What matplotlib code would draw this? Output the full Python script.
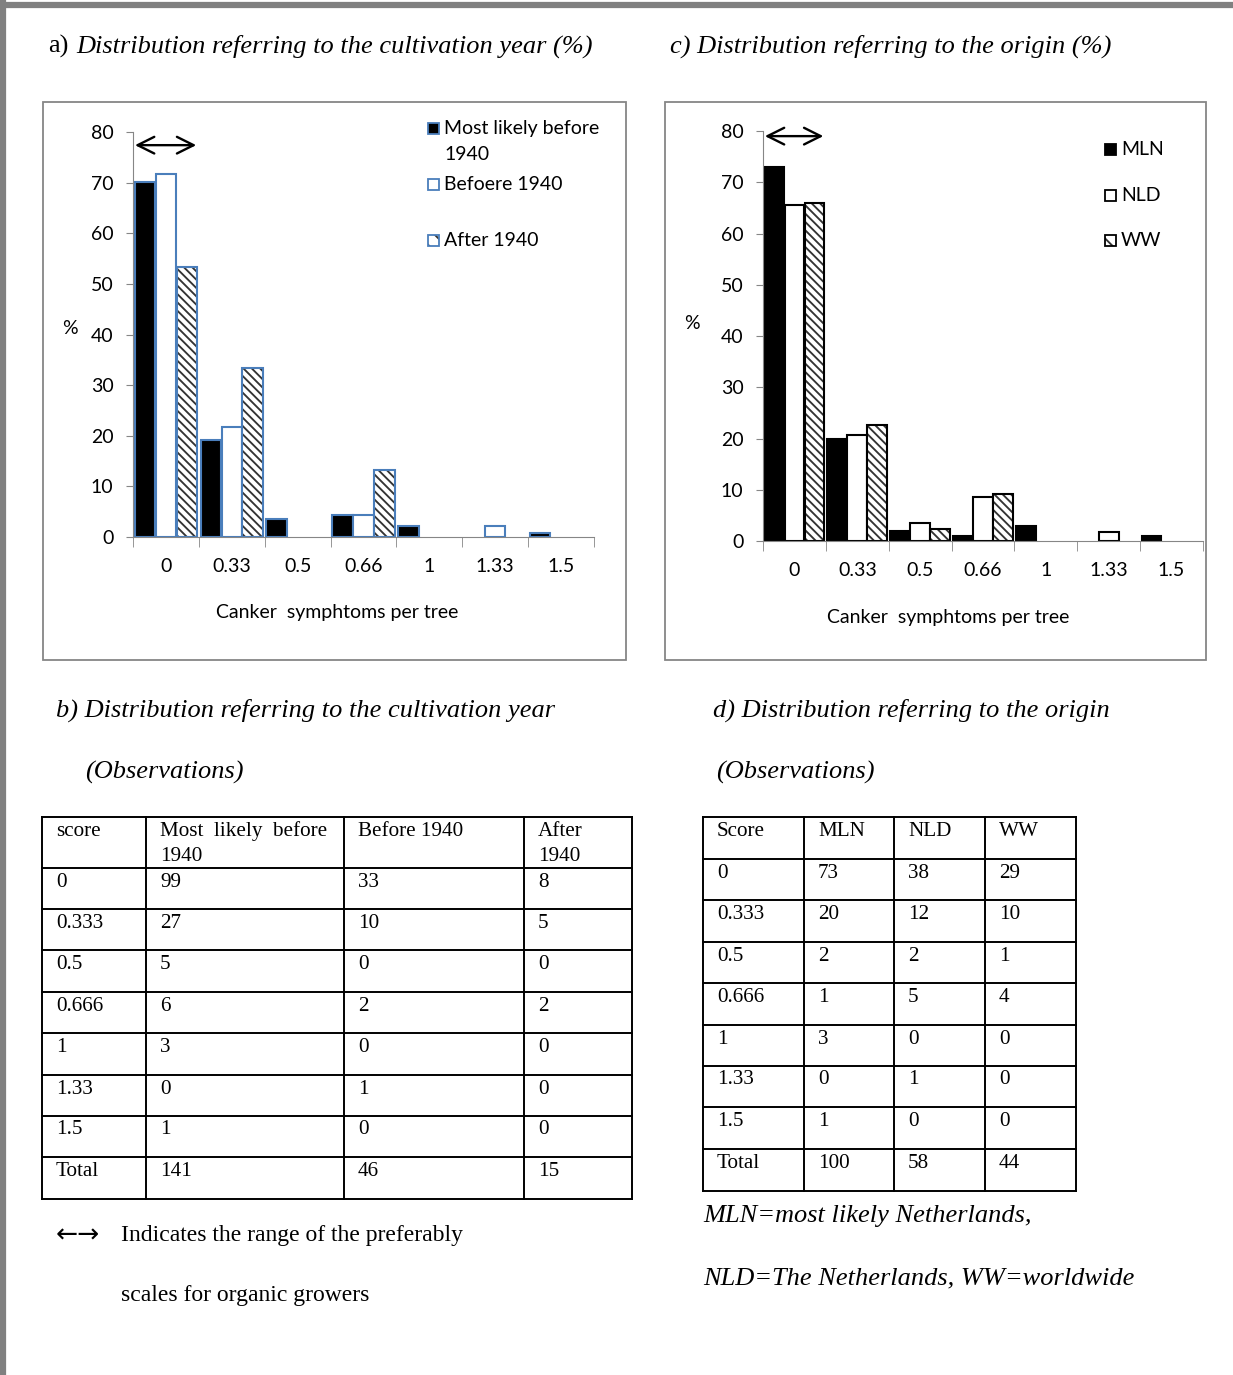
import numpy as np
import matplotlib.pyplot as plt
from matplotlib.patches import Rectangle

W, H = 1233, 1375

# scores on the x axis and in the tables
scores = ['0', '0.33', '0.5', '0.66', '1', '1.33', '1.5']
score_rows = ['0', '0.333', '0.5', '0.666', '1', '1.33', '1.5']

# observations per cultivation year class
year_labels = ['Most likely before', 'Befoere 1940', 'After 1940']
most_likely_before = [99, 27, 5, 6, 3, 0, 1]
before_1940 = [33, 10, 0, 2, 0, 1, 0]
after_1940 = [8, 5, 0, 2, 0, 0, 0]

# observations per origin
origin_labels = ['MLN', 'NLD', 'WW']
mln = [73, 20, 2, 1, 3, 0, 1]
nld = [38, 12, 2, 5, 0, 1, 0]
ww = [29, 10, 1, 4, 0, 0, 0]

# range preferred by organic growers (in category units)
pref_range = (-0.47, 0.46)

plt.rcParams['hatch.linewidth'] = 1.35
SANS = 'Lato'
SERIF = 'Liberation Serif'
GRAY = '#868686'
HATCH = '\\\\\\\\'
FS = 14       # chart text
TFS = 15.2    # table text
HFS = 19      # headings

fig = plt.figure(figsize=(W / 100, H / 100), dpi=100)

# full-size canvas in pixel units for frames, tables and free text
cv = fig.add_axes([0, 0, 1, 1])
cv.set_xlim(0, W)
cv.set_ylim(H, 0)
cv.axis('off')


def px_axes(x0, y0, x1, y1):
    return fig.add_axes([x0 / W, 1 - y1 / H, (x1 - x0) / W, (y1 - y0) / H])


def pct(counts):
    c = np.array(counts, dtype=float)
    return c / c.sum() * 100


def bar_chart(ax, series, edge, arrow_y):
    x = np.arange(len(scores))
    offs = [-0.318, 0, 0.318]
    w = 0.312
    for k, vals in enumerate(series):
        vals = pct(vals)
        keep = vals > 0
        xs, vs = x[keep] + offs[k], vals[keep]
        if k == 2:
            ax.bar(xs, vs, w, color='white', edgecolor='#333333', hatch=HATCH, linewidth=0)
            ax.bar(xs, vs, w, fill=False, edgecolor=edge, linewidth=1.5)
        else:
            ax.bar(xs, vs, w, color='black' if k == 0 else 'white', edgecolor=edge, linewidth=1.5)
    ax.set_xlim(-0.5, 6.5)
    ax.set_ylim(0, 80)
    ax.set_yticks(range(0, 81, 10))
    ax.tick_params(axis='y', direction='out', length=5, color=GRAY, pad=9, labelsize=FS)
    ax.set_xticks(x)
    ax.set_xticklabels(scores)
    ax.set_xticks(np.arange(-0.5, 7, 1), minor=True)
    ax.tick_params(axis='x', which='major', length=0, pad=15, labelsize=FS)
    ax.tick_params(axis='x', which='minor', direction='out', length=7, color=GRAY)
    for lab in ax.get_xticklabels() + ax.get_yticklabels():
        lab.set_fontfamily(SANS)
    for s in ['top', 'right']:
        ax.spines[s].set_visible(False)
    for s in ['left', 'bottom']:
        ax.spines[s].set_color(GRAY)
    ax.patch.set_alpha(0)
    ax.annotate('', xy=(pref_range[1], arrow_y), xytext=(pref_range[0], arrow_y),
                arrowprops=dict(arrowstyle='<->', lw=1.7, color='black', mutation_scale=30,
                                shrinkA=0, shrinkB=0),
                annotation_clip=False)


def legend_entry(x, y, kind, edge, text):
    s = 11
    if kind == 2:
        cv.add_patch(Rectangle((x, y - s / 2), s, s, facecolor='white', edgecolor='#333333',
                               hatch='\\\\', linewidth=0))
        cv.add_patch(Rectangle((x, y - s / 2), s, s, fill=False, edgecolor=edge, linewidth=1.3))
    else:
        cv.add_patch(Rectangle((x, y - s / 2), s, s, facecolor='black' if kind == 0 else 'white',
                               edgecolor=edge, linewidth=1.3))
    cv.text(x + s + 5, y, text, fontsize=FS, family=SANS, va='center', ha='left')


# outer page frame
cv.plot([0, W], [5, 5], color='#808080', lw=4.5, solid_capstyle='butt')
cv.plot([2.5, 2.5], [0, H], color='#808080', lw=4.5, solid_capstyle='butt')

# chart frames
cv.add_patch(Rectangle((43, 102), 583, 558, fill=False, edgecolor=GRAY, lw=1.3))
cv.add_patch(Rectangle((665, 102), 541, 558, fill=False, edgecolor=GRAY, lw=1.3))

# titles
cv.text(48, 46, 'a)', family=SERIF, fontsize=HFS, va='center')
cv.text(76, 46, 'Distribution referring to the cultivation year (%)', family=SERIF,
        style='italic', fontsize=HFS, va='center')
cv.text(670, 46, 'c) Distribution referring to the origin (%)', family=SERIF,
        style='italic', fontsize=HFS, va='center')
cv.text(56, 710, 'b) Distribution referring to the cultivation year', family=SERIF,
        style='italic', fontsize=HFS, va='center')
cv.text(85, 772, '(Observations)', family=SERIF, style='italic', fontsize=HFS, va='center')
cv.text(713, 710, 'd) Distribution referring to the origin', family=SERIF,
        style='italic', fontsize=HFS, va='center')
cv.text(716, 772, '(Observations)', family=SERIF, style='italic', fontsize=HFS, va='center')

# chart a
ax_a = px_axes(133, 132, 594, 537)
bar_chart(ax_a, [most_likely_before, before_1940, after_1940], '#4a7ebb', 77.4)
cv.text(70, 328, '%', family=SANS, fontsize=FS, ha='center', va='center')
cv.text(337, 612, 'Canker  symphtoms per tree', family=SANS, fontsize=FS, ha='center', va='center')
legend_entry(428, 128, 0, '#4a7ebb', year_labels[0])
cv.text(444, 154, '1940', fontsize=FS, family=SANS, va='center', ha='left')
legend_entry(428, 184, 1, '#4a7ebb', year_labels[1])
legend_entry(428, 240, 2, '#4a7ebb', year_labels[2])

# chart c
ax_c = px_axes(763, 131, 1203, 541)
bar_chart(ax_c, [mln, nld, ww], 'black', 79.0)
cv.text(692, 323, '%', family=SANS, fontsize=FS, ha='center', va='center')
cv.text(948, 617, 'Canker  symphtoms per tree', family=SANS, fontsize=FS, ha='center', va='center')
for k, yy in enumerate([149, 195, 240]):
    legend_entry(1105, yy, k, 'black', origin_labels[k])


def draw_table(xs, ys, header, rows):
    for x in xs:
        cv.plot([x, x], [ys[0], ys[-1]], color='black', lw=1.4)
    for y in ys:
        cv.plot([xs[0], xs[-1]], [y, y], color='black', lw=1.4)
    for j, h in enumerate(header):
        for n, line in enumerate(h.split('\n')):
            cv.text(xs[j] + 14, ys[0] + 14 + 25 * n, line, family=SERIF, fontsize=TFS,
                    va='center', ha='left')
    for i, row in enumerate(rows):
        for j, val in enumerate(row):
            cv.text(xs[j] + 14, ys[i + 1] + 14, val, family=SERIF, fontsize=TFS,
                    va='center', ha='left')


# table b
rows_b = [[score_rows[i], str(most_likely_before[i]), str(before_1940[i]), str(after_1940[i])]
          for i in range(len(score_rows))]
rows_b.append(['Total', str(sum(most_likely_before)), str(sum(before_1940)), str(sum(after_1940))])
draw_table([42, 146, 344, 524, 632],
           [817, 868, 909, 950, 992, 1033, 1075, 1116, 1157, 1199],
           ['score', 'Most  likely  before\n1940', 'Before 1940', 'After\n1940'], rows_b)

# table d
rows_d = [[score_rows[i], str(mln[i]), str(nld[i]), str(ww[i])] for i in range(len(score_rows))]
rows_d.append(['Total', str(sum(mln)), str(sum(nld)), str(sum(ww))])
draw_table([703, 804, 894, 985, 1076],
           [817, 859, 900, 942, 983, 1025, 1066, 1107, 1149, 1191],
           ['Score', 'MLN', 'NLD', 'WW'], rows_d)

# footnotes
cv.text(56, 1236, '\u2190\u2192', family='DejaVu Sans', fontsize=19, va='center')
cv.text(121, 1236, 'Indicates the range of the preferably', family=SERIF, fontsize=17, va='center')
cv.text(121, 1295, 'scales for organic growers', family=SERIF, fontsize=17, va='center')
cv.text(703, 1216, 'MLN=most likely Netherlands,', family=SERIF, style='italic',
        fontsize=19, va='center')
cv.text(703, 1278, 'NLD=The Netherlands, WW=worldwide', family=SERIF, style='italic',
        fontsize=19, va='center')

fig.savefig('out.png', dpi=100)
